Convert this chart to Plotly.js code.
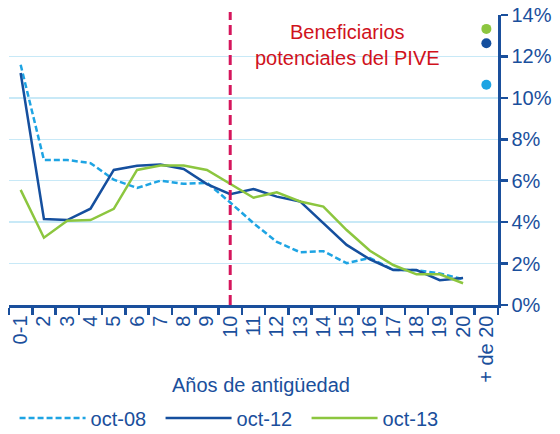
<!DOCTYPE html>
<html>
<head>
<meta charset="utf-8">
<script src="https://cdn.plot.ly/plotly-3.0.1.min.js"></script>
<style>html,body{margin:0;padding:0;background:#fff}#chart{width:560px;height:434px}</style>
</head>
<body>
<div id="chart"></div>
<script>
const categories = ["0-1","2","3","4","5","6","7","8","9","10","11","12","13","14","15","16","17","18","19","20","+ de 20"];
const lineCats = categories.slice(0, 20);
const oct08 = [11.6, 7.0, 7.0, 6.85, 6.05, 5.65, 6.0, 5.85, 5.9, 4.95, 3.95, 3.05, 2.55, 2.6, 2.02, 2.27, 1.7, 1.68, 1.52, 1.25];
const oct12 = [11.2, 4.15, 4.1, 4.65, 6.52, 6.72, 6.78, 6.57, 5.84, 5.35, 5.6, 5.23, 5.0, 3.95, 2.9, 2.2, 1.69, 1.69, 1.2, 1.3];
const oct13 = [5.56, 3.25, 4.07, 4.1, 4.64, 6.52, 6.73, 6.73, 6.52, 5.84, 5.18, 5.44, 5.0, 4.75, 3.62, 2.62, 1.93, 1.48, 1.48, 1.05];
const over20 = {oct08: 10.63, oct12: 12.64, oct13: 13.33};
const seriesNames = ["oct-08", "oct-12", "oct-13"];
const yTicks = [0, 2, 4, 6, 8, 10, 12, 14];
const annotationText = "Beneficiarios<br>potenciales del PIVE";
const xTitle = "Años de antigüedad";

const cLight = "#1ea4e3", cDark = "#154f9e", cGreen = "#8cc63f", axisBlue = "#1a4f9c";
const F = "Liberation Sans, Arial, sans-serif";

const traces = [
  {x: lineCats, y: oct08, name: seriesNames[0], mode: "lines", line: {color: cLight, width: 2.5, dash: "6px,3px"}},
  {x: lineCats, y: oct12, name: seriesNames[1], mode: "lines", line: {color: cDark, width: 2.5}},
  {x: lineCats, y: oct13, name: seriesNames[2], mode: "lines", line: {color: cGreen, width: 2.5}},
  {x: [categories[20]], y: [over20.oct08], mode: "markers", marker: {color: cLight, size: 10}, showlegend: false},
  {x: [categories[20]], y: [over20.oct12], mode: "markers", marker: {color: cDark, size: 10}, showlegend: false},
  {x: [categories[20]], y: [over20.oct13], mode: "markers", marker: {color: cGreen, size: 10}, showlegend: false}
];

const layout = {
  width: 560, height: 434,
  margin: {l: 9, r: 62, t: 15, b: 129},
  paper_bgcolor: "#fff", plot_bgcolor: "#fff",
  font: {family: F, size: 20, color: axisBlue},
  showlegend: true,
  xaxis: {
    type: "category", categoryorder: "array", categoryarray: categories,
    tickmode: "array", tickvals: categories, ticktext: categories,
    range: [-0.5, 20.5], tickangle: -90, tickson: "boundaries",
    ticks: "outside", ticklen: 7, tickwidth: 2.5, tickcolor: axisBlue,
    showline: true, linecolor: axisBlue, linewidth: 2.5,
    showgrid: false, zeroline: false,
    tickfont: {family: F, size: 20, color: axisBlue}, fixedrange: true
  },
  yaxis: {
    side: "right", range: [0, 14], tickvals: yTicks, ticktext: yTicks.map(v => v + "%"),
    ticks: "outside", ticklen: 7, tickwidth: 2.5, tickcolor: axisBlue,
    showline: true, linecolor: axisBlue, linewidth: 2.5,
    showgrid: true, gridcolor: "#c8e9f7", gridwidth: 1.5, zeroline: false,
    tickfont: {family: F, size: 20, color: axisBlue}, fixedrange: true
  },
  legend: {
    orientation: "h", xref: "container", yref: "container",
    x: 0.026, y: 0.037, xanchor: "left", yanchor: "middle",
    itemwidth: 66, entrywidth: 65, entrywidthmode: "pixels",
    font: {family: F, size: 20, color: axisBlue}, bgcolor: "rgba(0,0,0,0)"
  },
  shapes: [{
    type: "line", xref: "x", yref: "paper", x0: 9, x1: 9, y0: 0, y1: 1.01,
    line: {color: "#d5165c", width: 3, dash: "10px,5px"}
  }],
  annotations: [
    {text: annotationText, xref: "paper", yref: "paper", x: 0.692, y: 0.898, xanchor: "center", yanchor: "middle",
     showarrow: false, font: {family: F, size: 20, color: "#d0121c"}, align: "center"},
    {text: xTitle, xref: "paper", yref: "paper", x: 0.515, y: -0.276, xanchor: "center", yanchor: "middle",
     showarrow: false, font: {family: F, size: 20, color: axisBlue}}
  ]
};

Plotly.newPlot("chart", traces, layout, {displayModeBar: false, staticPlot: true});
</script>
</body>
</html>
